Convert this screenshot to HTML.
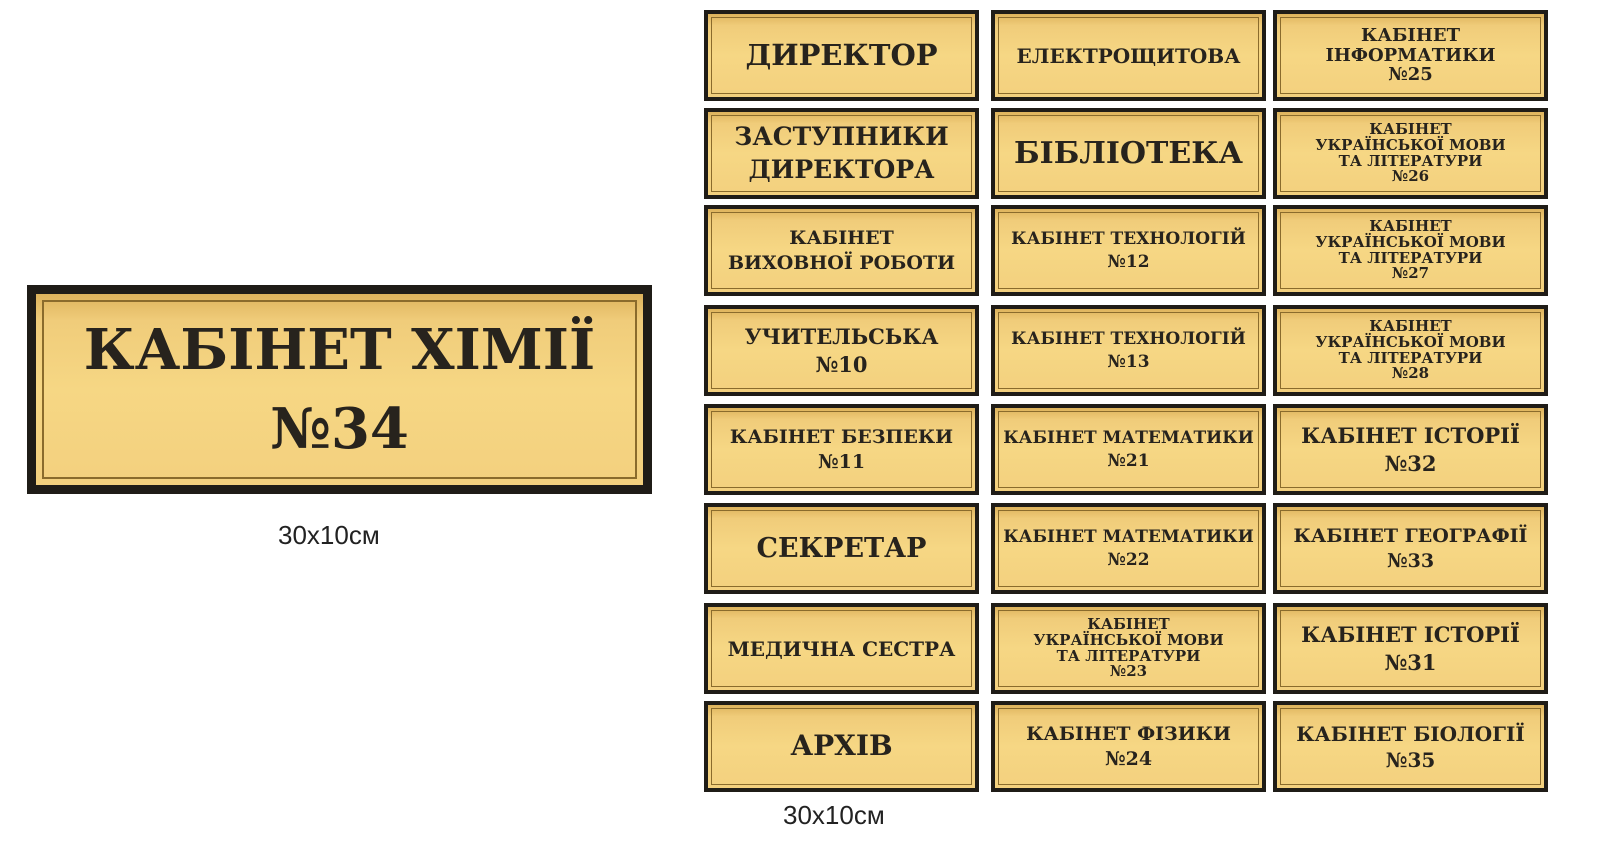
<!DOCTYPE html>
<html><head><meta charset="utf-8"><style>
body{margin:0;width:1600px;height:855px;background:#fff;position:relative;overflow:hidden;font-family:"DejaVu Serif","Liberation Serif",serif}
.s{position:absolute;background:#1f1c17;box-sizing:border-box;padding:4px}
.f{width:100%;height:100%;box-sizing:border-box;background:linear-gradient(#ddb35c 0%,#f0cc7a 14%,#f6d784 50%,#f3d07e 100%);padding:3px}
.i{width:100%;height:100%;box-sizing:border-box;border:1px solid #8a6b2c;display:flex;align-items:center;justify-content:center;text-align:center;font-weight:bold;color:#27231d;line-height:1.05;white-space:nowrap}
.cap{position:absolute;font-family:"Liberation Sans",sans-serif;font-size:26px;color:#222}
</style></head><body>
<div class="s" style="left:27px;top:285px;width:625px;height:209px;padding:9px"><div class="f" style="padding:6px"><div class="i" style="font-size:56px;line-height:1.4;border-width:2px">КАБІНЕТ ХІМІЇ<br>№34</div></div></div>
<div class="cap" style="left:278px;top:520px">30x10см</div>
<div class="cap" style="left:783px;top:800px">30x10см</div>
<div id="g"></div>
<script>
const cols=[704,991,1273],w=[275,275,275];
const rows=[10,108,205,305,404,503,603,701];
const d=[
[["ДИРЕКТОР",29],["ЗАСТУПНИКИ<br>ДИРЕКТОРА",25],["КАБІНЕТ<br>ВИХОВНОЇ РОБОТИ",19],["УЧИТЕЛЬСЬКА<br>№10",21],["КАБІНЕТ БЕЗПЕКИ<br>№11",19],["СЕКРЕТАР",27],["МЕДИЧНА СЕСТРА",20],["АРХІВ",28]],
[["ЕЛЕКТРОЩИТОВА",20],["БІБЛІОТЕКА",30],["КАБІНЕТ ТЕХНОЛОГІЙ<br>№12",17],["КАБІНЕТ ТЕХНОЛОГІЙ<br>№13",17],["КАБІНЕТ МАТЕМАТИКИ<br>№21",17],["КАБІНЕТ МАТЕМАТИКИ<br>№22",17],["КАБІНЕТ<br>УКРАЇНСЬКОЇ МОВИ<br>ТА ЛІТЕРАТУРИ<br>№23",15],["КАБІНЕТ ФІЗИКИ<br>№24",19]],
[["КАБІНЕТ<br>ІНФОРМАТИКИ<br>№25",18],["КАБІНЕТ<br>УКРАЇНСЬКОЇ МОВИ<br>ТА ЛІТЕРАТУРИ<br>№26",15],["КАБІНЕТ<br>УКРАЇНСЬКОЇ МОВИ<br>ТА ЛІТЕРАТУРИ<br>№27",15],["КАБІНЕТ<br>УКРАЇНСЬКОЇ МОВИ<br>ТА ЛІТЕРАТУРИ<br>№28",15],["КАБІНЕТ ІСТОРІЇ<br>№32",21],["КАБІНЕТ ГЕОГРАФІЇ<br>№33",19],["КАБІНЕТ ІСТОРІЇ<br>№31",21],["КАБІНЕТ БІОЛОГІЇ<br>№35",20]]];
let h="";
d.forEach((c,ci)=>c.forEach((t,ri)=>{
 const lines=t[0].split("<br>").length;
 const lh=lines>=4?1.05:(lines==2?1.3:1.1);
 h+=`<div class="s" style="left:${cols[ci]}px;top:${rows[ri]}px;width:${w[ci]}px;height:91px"><div class="f"><div class="i" style="font-size:${t[1]}px;line-height:${lh}">${t[0]}</div></div></div>`;
}));
document.getElementById("g").innerHTML=h;
</script>
</body></html>
